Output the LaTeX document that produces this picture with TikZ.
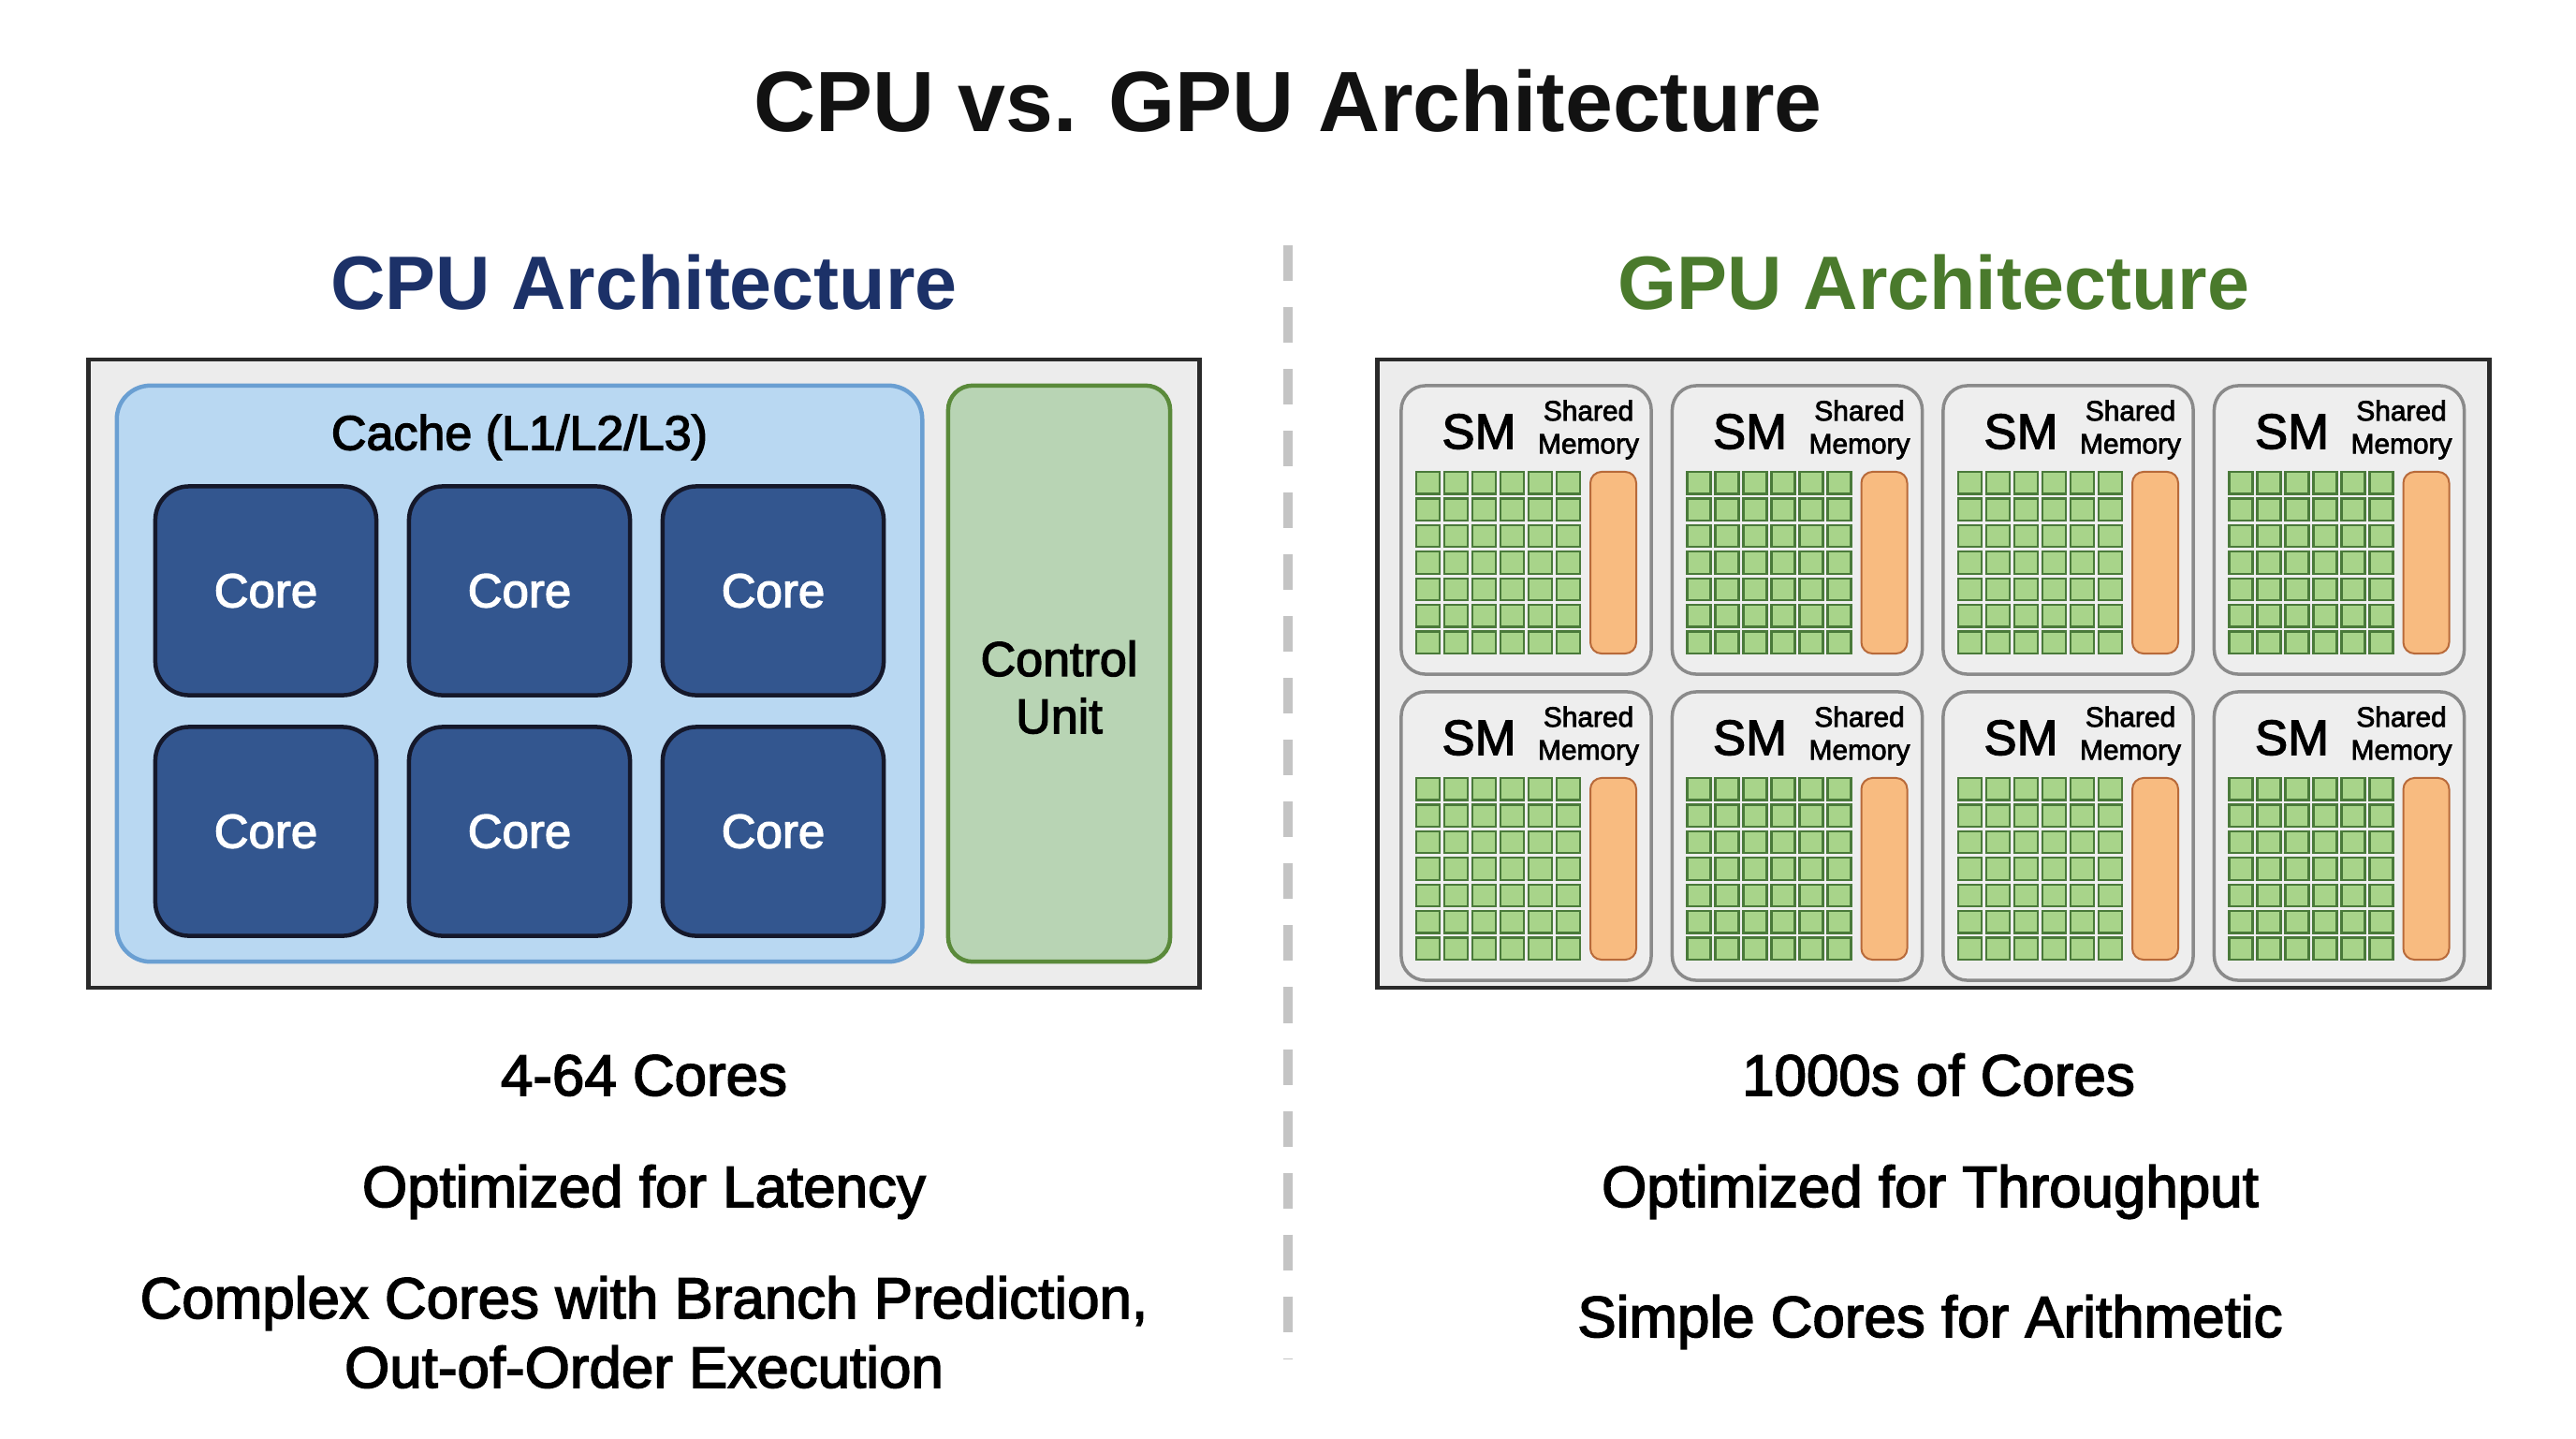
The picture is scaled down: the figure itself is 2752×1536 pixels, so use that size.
\documentclass[tikz,border=0pt]{standalone}
\usepackage{fontspec}
\setmainfont{Liberation Sans}
\newfontfamily\medfont[FakeBold=2.5]{Liberation Sans}
\definecolor{navy}{HTML}{1C3168}
\definecolor{gtitle}{HTML}{4A7A2C}
\definecolor{outerfill}{HTML}{ECECEC}
\definecolor{outerline}{HTML}{2A2A2A}
\definecolor{cachefill}{HTML}{B9D8F2}
\definecolor{cacheline}{HTML}{6A9FD2}
\definecolor{corefill}{HTML}{33568F}
\definecolor{coreline}{HTML}{15182A}
\definecolor{ctrlfill}{HTML}{B8D4B4}
\definecolor{ctrlline}{HTML}{5A8A3A}
\definecolor{smfill}{HTML}{EEEEEE}
\definecolor{smline}{HTML}{8A8A8A}
\definecolor{cellfill}{HTML}{A8D48A}
\definecolor{cellline}{HTML}{4A7A3A}
\definecolor{memfill}{HTML}{F8BB80}
\definecolor{memline}{HTML}{B86A3A}
\definecolor{divider}{HTML}{C4C4C4}
\begin{document}
\begin{tikzpicture}[x=0.01cm,y=-0.01cm,
  box/.style={rectangle,inner sep=0pt,outer sep=0pt},
  outerbox/.style={box,draw=outerline,fill=outerfill,line width=0.045cm},
  cachebox/.style={box,draw=cacheline,fill=cachefill,line width=0.045cm,rounded corners=0.36cm},
  corebox/.style={box,draw=coreline,fill=corefill,line width=0.045cm,rounded corners=0.36cm,
     minimum width=2.36cm,minimum height=2.23cm,text=white,font=\medfont\fontsize{14.5}{17}\selectfont},
  ctrlbox/.style={box,draw=ctrlline,fill=ctrlfill,line width=0.045cm,rounded corners=0.26cm},
  smbox/.style={box,draw=smline,fill=smfill,line width=0.035cm,rounded corners=0.26cm,
     minimum width=2.67cm,minimum height=3.08cm},
  membar/.style={box,draw=memline,fill=memfill,line width=0.02cm,rounded corners=0.12cm,
     minimum width=0.49cm,minimum height=1.94cm},
  cell/.style={draw=cellline,fill=cellfill,line width=0.022cm},
  smlbl/.style={inner sep=0pt,font=\medfont\fontsize{15}{17}\selectfont},
  shlbl/.style={inner sep=0pt,align=center,font=\medfont\fontsize{8.5}{10}\selectfont},
  bigtitle/.style={inner sep=0pt,anchor=base,font=\bfseries\fontsize{26}{30}\selectfont},
  subtitle/.style={inner sep=0pt,anchor=base,font=\bfseries\fontsize{23}{27}\selectfont},
  note/.style={inner sep=0pt,anchor=base,font=\medfont\fontsize{17.6}{21}\selectfont},
]
\useasboundingbox (0,0) rectangle (2752,1536);
\fill[white] (0,0) rectangle (2752,1536);

% titles
\node[bigtitle,text=black!93] (title) at (1376,140) {CPU vs. GPU Architecture};
\node[subtitle,text=navy] (cputitle) at (688,330) {CPU Architecture};
\node[subtitle,text=gtitle] (gputitle) at (2066,330) {GPU Architecture};

% divider
\coordinate (dtop) at (1376,262);
\coordinate (dbot) at (1376,1452);
\draw[divider,line width=0.1cm,dash pattern=on 0.38cm off 0.28cm] (dtop) -- (dbot);

% CPU
\node[outerbox,minimum width=11.86cm,minimum height=6.71cm] (cpu) at (688,719.5) {};
\node[cachebox,minimum width=8.60cm,minimum height=6.15cm] (cache) at (555,719.5) {};
\node[inner sep=0pt,font=\medfont\fontsize{14.8}{17}\selectfont] (cachelbl) at (555,467) {Cache (L1/L2/L3)};
\node[corebox] (c1) at (284,631) {Core};
\node[corebox] (c2) at (555,631) {Core};
\node[corebox] (c3) at (826,631) {Core};
\node[corebox] (c4) at (284,888) {Core};
\node[corebox] (c5) at (555,888) {Core};
\node[corebox] (c6) at (826,888) {Core};
\node[ctrlbox,minimum width=2.37cm,minimum height=6.15cm] (ctrl) at (1131.5,719.5) {};
\node[inner sep=0pt,align=center,font=\medfont\fontsize{14.8}{17.4}\selectfont] (ctrllbl) at (1131.5,734) {Control\\Unit};

% GPU
\node[outerbox,minimum width=11.87cm,minimum height=6.71cm] (gpu) at (2065.5,719.5) {};
\foreach \r in {0,1} {
  \foreach \c in {0,...,3} {
    \pgfmathsetmacro\L{1497+\c*289.5}
    \pgfmathsetmacro\T{412+\r*327}
    \node[smbox] (sm\r\c) at (\L+133.5,\T+154) {};
    \node[smlbl] (smt\r\c) at (\L+83,\T+49) {SM};
    \node[shlbl] (sh\r\c) at (\L+200,\T+47) {Shared\\Memory};
    \foreach \i in {0,...,5} {
      \foreach \j in {0,...,6} {
        \draw[cell] (\L+16+\i*30,\T+92+\j*28.4) rectangle ++(25,23.4);
      }
    }
    \node[membar] (mem\r\c) at (\L+226.5,\T+189) {};
  }
}

% notes
\node[note] (n1) at (688,1170) {4-64 Cores};
\node[note] (n2) at (688,1289) {Optimized for Latency};
\node[note] (n3) at (688,1408) {Complex Cores with Branch Prediction,};
\node[note] (n4) at (688,1482) {Out-of-Order Execution};
\node[note] (n5) at (2071,1170) {1000s of Cores};
\node[note] (n6) at (2062,1289) {Optimized for Throughput};
\node[note] (n7) at (2062,1428) {Simple Cores for Arithmetic};
\end{tikzpicture}
\end{document}
